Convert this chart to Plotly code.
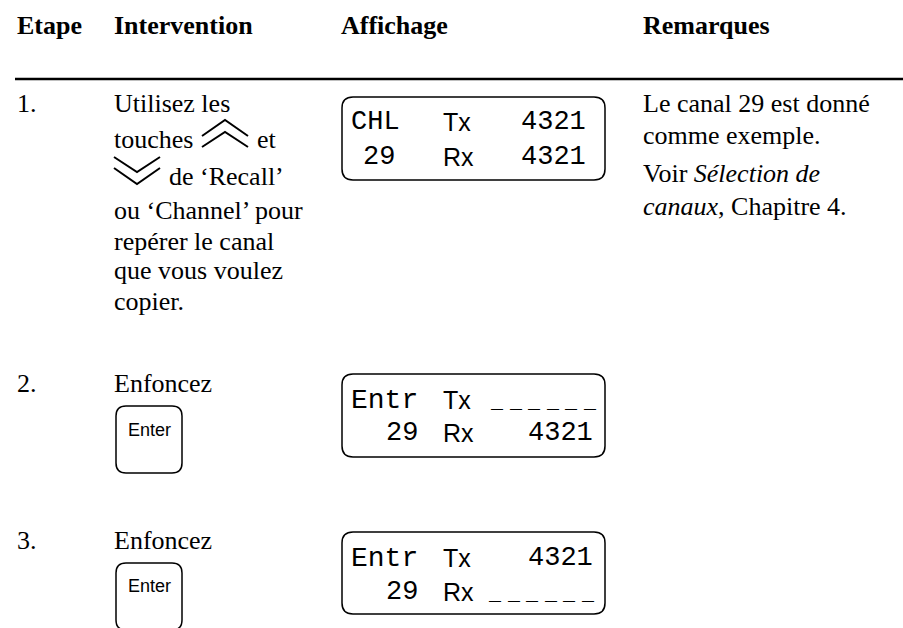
import plotly.graph_objects as go

# ---- content ----
headers = ["Etape", "Intervention", "Affichage", "Remarques"]
steps = ["1.", "2.", "3."]
intervention_lines = ["Utilisez les", "touches", "et", "de ‘Recall’", "ou ‘Channel’ pour",
                      "repérer le canal", "que vous voulez", "copier.", "Enfoncez", "Enfoncez"]
key_label = "Enter"
remark_lines = ["Le canal 29 est donné", "comme exemple.", "Voir <i>Sélection de</i>",
                "<i>canaux</i>, Chapitre 4."]
lcd_words = ["CHL", "Tx", "4321", "29", "Rx", "4321",
             "Entr", "Tx", "29", "Rx", "4321",
             "Entr", "Tx", "4321", "29", "Rx"]

# ---- layout ----
W, H = 903, 628
SERIF = "Liberation Serif"
MONO = "Liberation Mono"
SANS = "Liberation Sans"
BODY = 26
header_x = [16, 113, 340, 642]
step_y = [103, 383, 540]
interv_pos = [(113, 103), (113, 139), (256, 139), (168, 176), (113, 210), (113, 241), (113, 270), (113, 301),
              (113, 383), (113, 540)]
remark_pos = [(642, 103), (642, 135), (642, 173), (642, 206)]
lcd_pos = [(350, 122), (442, 122), (520, 122), (362, 157), (442, 157), (520, 157),
           (350, 400), (442, 400), (385, 433), (442, 433), (527, 433),
           (350, 558), (442, 558), (527, 558), (385, 592), (442, 592)]
lcd_size = [27, 25, 27, 27, 25, 27, 28, 25, 27, 25, 27, 28, 25, 27, 27, 25]
lcd_font = [MONO, SANS, MONO, MONO, SANS, MONO, MONO, SANS, MONO, SANS, MONO, MONO, SANS, MONO, MONO, SANS]
dash_rows = [(489, 402), (487, 594)]
lcd_boxes = [(342, 97, 605, 180), (342, 374, 605, 457), (342, 532, 605, 614)]
key_boxes = [(116, 406, 182, 473), (116, 563, 182, 630)]
key_text_y = [430, 586]
chevrons = [[(202, 136), (225, 120), (248, 136)], [(202, 147), (225, 132), (248, 147)],
            [(114, 157), (137, 172), (160, 157)], [(114, 168), (137, 184), (160, 168)]]


def rrect(x0, y0, x1, y1, r):
    return (f"M{x0+r},{y0} L{x1-r},{y0} Q{x1},{y0} {x1},{y0+r} L{x1},{y1-r} Q{x1},{y1} {x1-r},{y1} "
            f"L{x0+r},{y1} Q{x0},{y1} {x0},{y1-r} L{x0},{y0+r} Q{x0},{y0} {x0+r},{y0} Z")


fig = go.Figure()
for c in chevrons:
    fig.add_trace(go.Scatter(x=[p[0] for p in c], y=[p[1] for p in c], mode="lines",
                             line=dict(color="#000", width=2), hoverinfo="skip", showlegend=False))

shapes = [dict(type="line", x0=15, x1=W, y0=79, y1=79, line=dict(color="#000", width=2.5))]
for b in lcd_boxes:
    shapes.append(dict(type="path", path=rrect(*b, 11), line=dict(color="#000", width=1.5)))
for b in key_boxes:
    shapes.append(dict(type="path", path=rrect(*b, 10), line=dict(color="#000", width=1.5)))

ann = []


def t(x, y, s, size=BODY, family=SERIF, anchor="left", color="#000"):
    ann.append(dict(x=x, y=y, text=s, showarrow=False, xanchor=anchor, yanchor="middle",
                    borderpad=0, align="left", font=dict(family=family, size=size, color=color)))


for x, s in zip(header_x, headers):
    t(x, 25, f"<b>{s}</b>")
for y, s in zip(step_y, steps):
    t(16, y, s)
for (x, y), s in zip(interv_pos, intervention_lines):
    t(x, y, s)
for (x, y), s in zip(remark_pos, remark_lines):
    t(x, y, s)
for (x, y), s, z, f in zip(lcd_pos, lcd_words, lcd_size, lcd_font):
    t(x, y, s, size=z, family=f)
for (x0, y) in dash_rows:
    for i in range(6):
        t(x0 + 18.6 * i, y, "_", size=20, family=MONO)
for b, y in zip(key_boxes, key_text_y):
    t((b[0] + b[2]) / 2, y, key_label, size=18, family=SANS, anchor="center")

fig.update_layout(width=W, height=H, margin=dict(l=0, r=0, t=0, b=0), paper_bgcolor="#fff", plot_bgcolor="#fff",
                  xaxis=dict(range=[0, W], visible=False, fixedrange=True),
                  yaxis=dict(range=[H, 0], visible=False, fixedrange=True),
                  shapes=shapes, annotations=ann, showlegend=False)
fig.write_html("out.html", config=dict(displayModeBar=False),
               post_script="document.body.style.margin='0';")
